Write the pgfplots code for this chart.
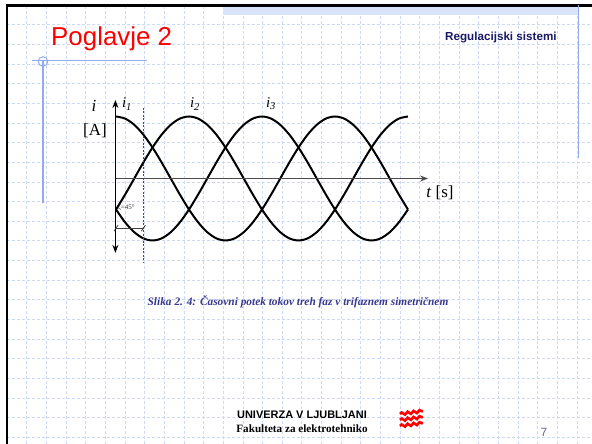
\documentclass[border=0pt]{standalone}
\usepackage{pgfplots}
\pgfplotsset{compat=1.18}
\usepackage{pgfplotstable}
\usepackage{fontspec}
\setmainfont{Liberation Serif}
\newfontfamily\sans{Liberation Sans}
\usetikzlibrary{arrows.meta,decorations.pathmorphing}

\definecolor{gridblue}{rgb}{0.80,0.85,0.97}
\definecolor{lineblue}{rgb}{0.58,0.67,0.95}
\definecolor{bandblue}{rgb}{0.85,0.89,0.98}
\definecolor{navy}{rgb}{0.10,0.10,0.40}
\definecolor{capblue}{rgb}{0.22,0.22,0.55}
\definecolor{pagegray}{rgb}{0.40,0.40,0.65}

% three phase currents, t in degrees
\pgfplotstableread{
t i1 i2 i3
0 1 -0.5 -0.5
15 0.966 -0.259 -0.707
30 0.866 0 -0.866
45 0.707 0.259 -0.966
60 0.5 0.5 -1
75 0.259 0.707 -0.966
90 0 0.866 -0.866
105 -0.259 0.966 -0.707
120 -0.5 1 -0.5
135 -0.707 0.966 -0.259
150 -0.866 0.866 0
165 -0.966 0.707 0.259
180 -1 0.5 0.5
195 -0.966 0.259 0.707
210 -0.866 0 0.866
225 -0.707 -0.259 0.966
240 -0.5 -0.5 1
255 -0.259 -0.707 0.966
270 0 -0.866 0.866
285 0.259 -0.966 0.707
300 0.5 -1 0.5
315 0.707 -0.966 0.259
330 0.866 -0.866 0
345 0.966 -0.707 -0.259
360 1 -0.5 -0.5
375 0.966 -0.259 -0.707
390 0.866 0 -0.866
405 0.707 0.259 -0.966
420 0.5 0.5 -1
435 0.259 0.707 -0.966
450 0 0.866 -0.866
465 -0.259 0.966 -0.707
480 -0.5 1 -0.5
}\phases

\begin{document}
\begin{tikzpicture}[x=1bp,y=1bp]
\useasboundingbox (0,0) rectangle (592,444);
\fill[white] (0,0) rectangle (592,444);

% slide grid
\begin{scope}
\clip (7,0) rectangle (592,439);
\foreach \k in {1,...,30} {
  \draw[gridblue, line width=0.6bp, dash pattern=on 3bp off 2bp] (7+19.65*\k,0) -- (7+19.65*\k,439);
  \draw[gridblue, line width=0.6bp, dash pattern=on 3bp off 2bp] (7,439-19.65*\k) -- (592,439-19.65*\k);
}
\end{scope}

% frame and header decoration
\fill[bandblue] (223,429) rectangle (578,437);
\draw[black, line width=2.2bp] (7,0) -- (7,438.5) -- (592,438.5);
\draw[lineblue, line width=1bp] (578,439) -- (578,286);
\draw[lineblue, line width=1.3bp] (32,383.3) -- (147,383.3);
\draw[lineblue, line width=1.3bp] (43,382.5) -- (43,241);
\draw[lineblue, line width=1bp] (43,382.5) circle (4.8bp);

\node[anchor=base west, inner sep=0pt, text=red, font=\sans\fontsize{26}{30}\selectfont] at (51,398) {Poglavje 2};
\node[anchor=base west, inner sep=0pt, text=navy, font=\sans\bfseries\fontsize{11.7}{13}\selectfont] at (445,403) {Regulacijski sistemi};

\begin{axis}[
    anchor=origin, at={(116bp,265.5bp)},
    x=0.6083bp, y=62bp,
    xmin=-5, xmax=520, ymin=-1.45, ymax=1.35,
    hide axis, clip=false,
]
\addplot[black, line width=2bp, smooth] table[x=t, y=i1] {\phases};
\addplot[black, line width=2bp, smooth] table[x=t, y=i2] {\phases};
\addplot[black, line width=2bp, smooth] table[x=t, y=i3] {\phases};
\draw[black!70, line width=1.2bp, -{Stealth[length=8bp,width=6bp]}] (axis cs:-1,0) -- (axis cs:513,0);
\draw[black, line width=1.3bp, {Stealth[length=8bp,width=6bp]}-{Stealth[length=8bp,width=6bp]}] (axis cs:-1,-1.2) -- (axis cs:-1,1.266);
\draw[black!70, line width=1bp, dash pattern=on 2bp off 1.5bp] (axis cs:45,1.137) -- (axis cs:45,-1.35);
\draw[black!75, line width=1bp] (axis cs:0,-0.8) -- (axis cs:45,-0.8);
\draw[black!75, line width=0.8bp] (axis cs:0,-0.8) ++(-2bp,-3bp) -- ++(4bp,6bp);
\draw[black!75, line width=0.8bp] (axis cs:45,-0.8) ++(-2bp,-3bp) -- ++(4bp,6bp);
\node[anchor=west, inner sep=0pt, text=black!80, font=\fontsize{7}{8}\selectfont] at (axis cs:3,-0.47) {ζ=45°};
\end{axis}

% axis and curve labels
\node[font=\fontsize{17}{20}\selectfont\itshape] at (94,338) {i};
\node[font=\fontsize{17}{20}\selectfont] at (95,313) {[A]};
\node[font=\fontsize{15}{18}\selectfont] at (127,340) {\textit{i}\textsubscript{\textit{1}}};
\node[font=\fontsize{15}{18}\selectfont] at (195,340) {\textit{i}\textsubscript{\textit{2}}};
\node[font=\fontsize{15}{18}\selectfont] at (271,340) {\textit{i}\textsubscript{\textit{3}}};
\node[font=\fontsize{17}{20}\selectfont] at (440,251) {\textit{t} [s]};

\node[text=capblue, font=\bfseries\itshape\fontsize{11.4}{13}\selectfont] at (298,142) {Slika 2. 4: Časovni potek tokov treh faz v trifaznem simetričnem};

% footer
\node[font=\sans\bfseries\fontsize{11}{13}\selectfont] at (302,29) {UNIVERZA V LJUBLJANI};
\node[font=\bfseries\fontsize{11.2}{13}\selectfont] at (302,15) {Fakulteta za elektrotehniko};
\foreach \yy in {30,24,18} {
  \draw[red, line width=2.6bp, decorate, decoration={snake, amplitude=1.3bp, segment length=6bp}] (400,\yy) -- (423,\yy+3);
}
\node[text=pagegray, font=\sans\fontsize{12}{14}\selectfont] at (544,12) {7};
\end{tikzpicture}
\end{document}
